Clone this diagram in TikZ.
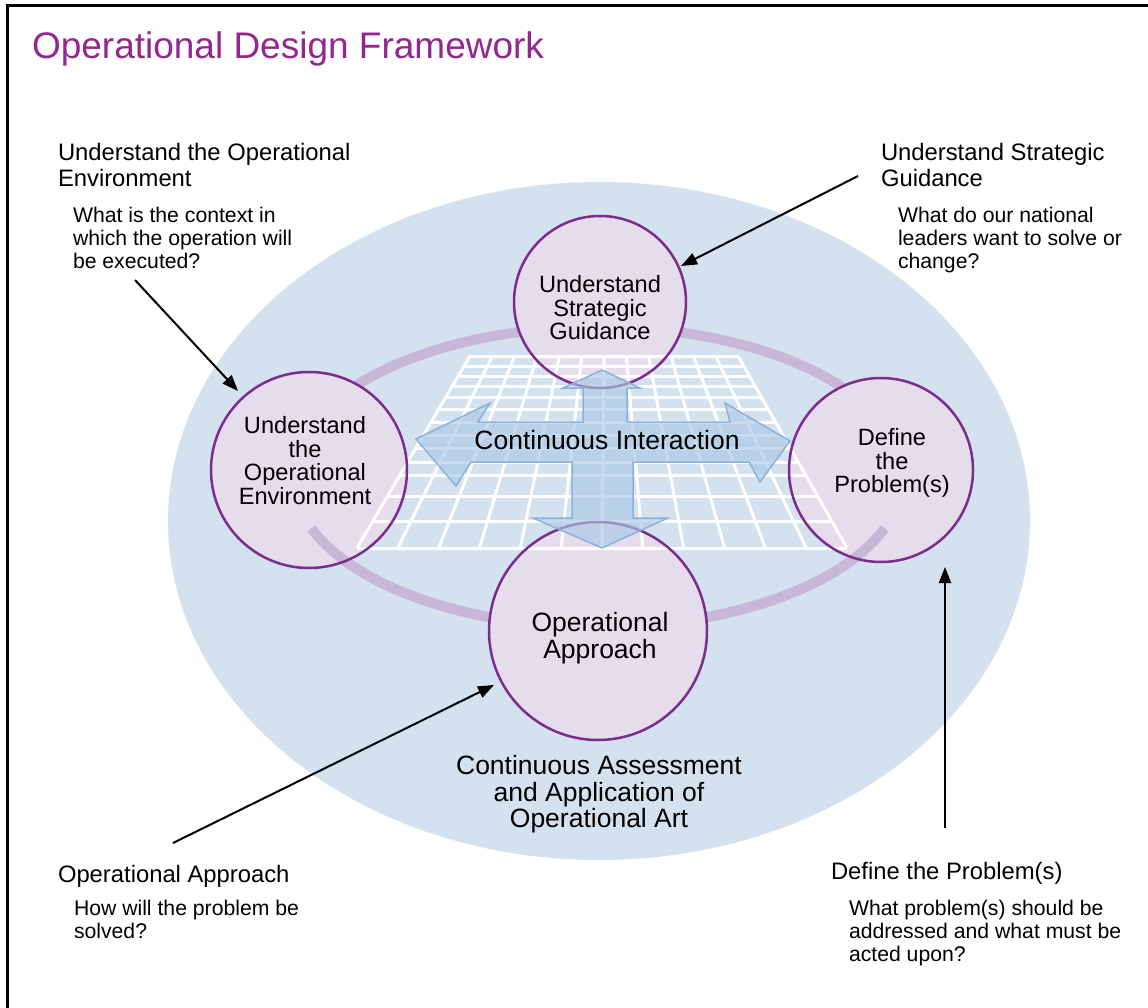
\documentclass[tikz,border=0pt]{standalone}
\usepackage{fontspec}
\setmainfont{Liberation Sans}
\usetikzlibrary{arrows.meta}
\definecolor{ellblue}{HTML}{D4E1EE}
\definecolor{cfill}{HTML}{E5DCEC}
\definecolor{cline}{HTML}{7B2D8E}
\definecolor{ringc}{HTML}{C8B7D7}
\definecolor{titlec}{HTML}{93278F}
\definecolor{arrfill}{HTML}{A9C7E5}
\definecolor{arrline}{HTML}{8DB2D8}
\newcommand{\fhead}{\fontsize{23.8}{26}\selectfont}
\newcommand{\fques}{\fontsize{21.2}{23}\selectfont}
\newcommand{\fcirc}{\fontsize{23.6}{23.8}\selectfont}
\newcommand{\fbig}{\fontsize{26.5}{26.8}\selectfont}
\newcommand{\ftitle}{\fontsize{37}{40}\selectfont}
\begin{document}
\begin{tikzpicture}[x=1pt,y=-1pt,
  cfillst/.style={circle, fill=cfill, inner sep=0pt},
  clinest/.style={circle, draw=cline, line width=2.5pt, inner sep=0pt},
  ringst/.style={draw=ringc, line width=10pt},
  gridl/.style={draw=white, line width=3pt},
  txt/.style={inner sep=0pt, outer sep=0pt},
  leader/.style={-{Triangle[length=16pt,width=12pt]}, line width=2pt, black},
  crossst/.style={fill=arrfill, fill opacity=0.65, draw=arrline, line width=1.5pt, line join=miter}]
\useasboundingbox (0,0) rectangle (1148,1008);
\clip (0,0) rectangle (1148,1008);
\fill[white] (0,0) rectangle (1148,1008);
% frame
\draw[line width=3pt] (7,1012) -- (7,6) -- (1152,6);
% title
\node[txt, anchor=base west, font=\ftitle, text=titlec] (title) at (32,59) {Operational Design Framework};
% big ellipse
\fill[ellblue] (599,521) ellipse [x radius=431, y radius=339];
% ring (back)
\draw[ringst] (598,477) ellipse [x radius=305, y radius=150];
% circle fills
\node[cfillst, minimum size=172pt] (tcf) at (600,302) {};
\node[cfillst, minimum size=196pt] (lcf) at (309,470) {};
\node[cfillst, minimum size=184pt] (rcf) at (881,470) {};
% ring (front)
\draw[ringst] (598,477) ++(20:305 and 150) arc[start angle=20, end angle=160, x radius=305, y radius=150];
\node[cfillst, minimum size=218pt] (bcf) at (598,631) {};
% grid
\foreach \yy in {356,366,376,386,397,409,422,435,448,462,475,496,521,548} {
  \draw[gridl] ({470-(\yy-356)/192*113},\yy) -- ({738+(\yy-356)/192*109},\yy);
}
\foreach \i in {0,...,12} {
  \draw[gridl] ({470+\i/12*268},356) -- ({357+\i/12*490},548);
}
% circle outlines
\node[clinest, minimum size=172pt] (tc) at (600,302) {};
\node[clinest, minimum size=196pt] (lc) at (309,470) {};
\node[clinest, minimum size=184pt] (rc) at (881,470) {};
\node[clinest, minimum size=218pt] (bc) at (598,631) {};
% cross arrow
\draw[crossst] (583,422) -- (583,388) -- (563,388) -- (602,370) -- (640,388) -- (627,388) -- (627,422)
  -- (730,422) -- (725,403) -- (790,441) -- (760,482) -- (749,462) -- (633,462) -- (633,518)
  -- (668,518) -- (602,548) -- (533,518) -- (572,518) -- (572,462) -- (471,462) -- (456,486)
  -- (416,439) -- (490,403) -- (478,422) -- cycle;
\node[txt, anchor=base, font=\fbig] (ci) at (607,449) {Continuous Interaction};
% circle texts
\node[txt, anchor=north, align=center, font=\fcirc] (tct) at (600,275.1) {Understand\\Strategic\\Guidance};
\node[txt, anchor=north, align=center, font=\fcirc] (lct) at (305,416.1) {Understand\\the\\Operational\\Environment};
\node[txt, anchor=north, align=center, font=\fcirc] (rct) at (892,428.1) {Define\\the\\Problem(s)};
\node[txt, anchor=north, align=center, font=\fbig] (bct) at (600,612) {Operational\\Approach};
\node[txt, anchor=north, align=center, font=\fbig] (cat) at (599,755) {Continuous Assessment\\and Application of\\Operational Art};
% side texts
\node[txt, anchor=north west, align=left, font=\fhead] (h1) at (58,143) {Understand the Operational\\Environment};
\node[txt, anchor=north west, align=left, font=\fques] (q1) at (73,206.8) {What is the context in\\which the operation will\\be executed?};
\node[txt, anchor=north west, align=left, font=\fhead] (h2) at (881,143) {Understand Strategic\\Guidance};
\node[txt, anchor=north west, align=left, font=\fques] (q2) at (898,206.8) {What do our national\\leaders want to solve or\\change?};
\node[txt, anchor=base west, font=\fhead] (h3) at (58,882) {Operational Approach};
\node[txt, anchor=north west, align=left, font=\fques] (q3) at (74,899.8) {How will the problem be\\solved?};
\node[txt, anchor=base west, font=\fhead] (h4) at (831,879) {Define the Problem(s)};
\node[txt, anchor=north west, align=left, font=\fques] (q4) at (849,899.8) {What problem(s) should be\\addressed and what must be\\acted upon?};
% leader arrows
\coordinate (a1s) at (135,280); \coordinate (a1e) at (238,391);
\coordinate (a2s) at (858,176); \coordinate (a2e) at (681,266);
\coordinate (a3s) at (173,843); \coordinate (a3e) at (494,685);
\coordinate (a4s) at (945,828); \coordinate (a4e) at (945,567);
\draw[leader] (a1s) -- (a1e);
\draw[leader] (a2s) -- (a2e);
\draw[leader] (a3s) -- (a3e);
\draw[leader] (a4s) -- (a4e);
\end{tikzpicture}
\end{document}
